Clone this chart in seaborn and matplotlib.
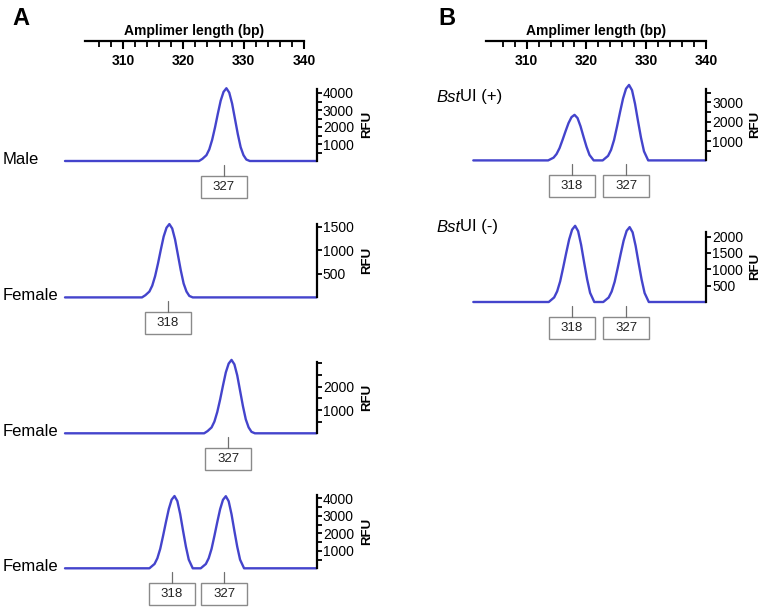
import matplotlib
matplotlib.use("Agg")
import matplotlib.pyplot as plt
import seaborn as sns
from matplotlib.patches import Rectangle
from matplotlib.lines import Line2D

# ---------------- data ----------------
axis_title = "Amplimer length (bp)"
top_major = [310, 320, 330, 340]
top_minor = [306, 308, 312, 314, 316, 318, 322, 324, 326, 328, 332, 334, 336, 338]

# Panel A
a_names = ["Male", "Female", "Female", "Female"]

a1_x = [299.2, 322.7, 323.3, 324.0, 324.5, 325.0, 325.5, 326.0, 326.5, 327.0, 327.5,
        328.0, 328.5, 329.0, 329.5, 330.0, 330.5, 331.0, 331.6, 343.3]
a1_y = [0, 0, 128, 342, 685, 1241, 1969, 2782, 3552, 4066, 4280, 4023, 3381, 2482, 1584,
        813, 342, 86, 0, 0]

a2_x = [299.2, 312.7, 313.3, 314.0, 314.5, 315.0, 315.5, 316.0, 316.5, 317.0, 317.5,
        318.0, 318.5, 319.0, 319.5, 320.0, 320.5, 321.0, 321.6, 343.3]
a2_y = [0, 0, 47, 125, 250, 452, 718, 1014, 1295, 1482, 1560, 1466, 1232, 905, 577, 296,
        125, 31, 0, 0]

a3_x = [299.2, 323.6, 324.2, 324.9, 325.4, 325.9, 326.4, 326.9, 327.4, 327.9, 328.4,
        328.9, 329.4, 329.9, 330.4, 330.9, 331.4, 331.9, 332.5, 343.3]
a3_y = [0, 0, 95, 252, 504, 914, 1449, 2048, 2615, 2993, 3150, 2961, 2489, 1827, 1166,
        599, 252, 63, 0, 0]

a4_x = [299.2, 314.0, 314.9, 315.4, 315.9, 316.4, 316.9, 317.4, 317.9, 318.4, 318.9,
        319.4, 319.9, 320.4, 320.9, 321.6, 323.0, 323.9, 324.4, 324.9, 325.4, 325.9,
        326.4, 326.9, 327.4, 327.9, 328.4, 328.9, 329.4, 329.9, 330.6, 343.3]
a4_y = [0, 0, 248, 578, 1115, 1859, 2643, 3387, 3924, 4130, 3841, 3098, 2148, 1239, 496, 0,
        0, 247, 577, 1112, 1854, 2637, 3378, 3914, 4120, 3832, 3090, 2142, 1236, 494, 0, 0]

# Panel B
b_names = [("Bst", "UI (+)"), ("Bst", "UI (-)")]

b1_x = [301.1, 313.6, 314.5, 315.0, 315.5, 316.0, 316.5, 317.0, 317.5, 318.0, 318.5,
        319.0, 319.5, 320.0, 320.5, 321.2, 322.7, 323.6, 324.1, 324.6, 325.1, 325.6,
        326.1, 326.6, 327.1, 327.6, 328.1, 328.6, 329.1, 329.6, 330.3, 339.9]
b1_y = [0, 0, 142, 330, 637, 1062, 1510, 1935, 2242, 2360, 2195, 1770, 1227, 708, 283, 0,
        0, 235, 547, 1056, 1760, 2502, 3206, 3715, 3910, 3636, 2933, 2033, 1173, 469, 0, 0]

b2_x = [301.1, 313.7, 314.6, 315.1, 315.6, 316.1, 316.6, 317.1, 317.6, 318.1, 318.6,
        319.1, 319.6, 320.1, 320.6, 321.3, 322.8, 323.7, 324.2, 324.7, 325.2, 325.7,
        326.2, 326.7, 327.2, 327.7, 328.2, 328.7, 329.2, 329.7, 330.4, 339.9]
b2_y = [0, 0, 140, 326, 629, 1049, 1491, 1911, 2214, 2330, 2167, 1748, 1212, 699, 280, 0,
        0, 137, 321, 618, 1031, 1466, 1878, 2176, 2290, 2130, 1718, 1191, 687, 275, 0, 0]

# peak call boxes: text and position (bp)
a1_calls, a1_call_pos = ["327"], [327.0]
a2_calls, a2_call_pos = ["318"], [317.2]
a3_calls, a3_call_pos = ["327"], [327.8]
a4_calls, a4_call_pos = ["318", "327"], [317.9, 327.1]
b1_calls, b1_call_pos = ["318", "327"], [317.5, 326.6]
b2_calls, b2_call_pos = ["318", "327"], [317.5, 326.6]

# RFU axis ticks
a1_major, a1_minor, a1_top = [1000, 2000, 3000, 4000], [500, 1500, 2500, 3500], 4250
a2_major, a2_minor, a2_top = [500, 1000, 1500], [], 1570
a3_major, a3_minor, a3_top = [1000, 2000], [500, 1500, 2500, 3000], 3050
a4_major, a4_minor, a4_top = [1000, 2000, 3000, 4000], [500, 1500, 2500, 3500], 4180
b1_major, b1_minor, b1_top = [1000, 2000, 3000], [500, 1500, 2500, 3500], 3700
b2_major, b2_minor, b2_top = [500, 1000, 1500, 2000], [], 2150

# ---------------- style ----------------
sns.set_style("white")
plt.rcParams["font.family"] = ["Liberation Sans", "DejaVu Sans"]
for k in ["text.color", "axes.labelcolor", "xtick.color", "ytick.color", "axes.edgecolor"]:
    plt.rcParams[k] = "black"

W, H = 765, 608
BLUE = "#4444cc"
GRAY = "#8a8a8a"

fig = plt.figure(figsize=(W / 100, H / 100), dpi=100)
fig.patch.set_facecolor("white")


def fx(px):
    return px / W


def fy(py):
    return 1 - py / H


def top_axis(px0, px1, py, xlim):
    ax = fig.add_axes([fx(px0), fy(py), fx(px1) - fx(px0), 0.0001])
    ax.set_xlim(*xlim)
    ax.set_ylim(0, 1)
    for s in ["left", "right", "top"]:
        ax.spines[s].set_visible(False)
    ax.spines["bottom"].set_linewidth(1.6)
    ax.set_yticks([])
    ax.set_xticks(top_major)
    ax.set_xticklabels([str(v) for v in top_major], fontweight="bold", fontsize=10)
    ax.set_xticks(top_minor, minor=True)
    ax.tick_params(axis="x", which="major", bottom=True, top=False, direction="out",
                   length=6, width=1.5, pad=3.5)
    ax.tick_params(axis="x", which="minor", bottom=True, top=False, direction="out",
                   length=4, width=1.3)
    ax.set_title(axis_title, fontweight="bold", fontsize=10, pad=4.5)
    ax.patch.set_alpha(0)
    return ax


def trace(xs, ys, px0, px1, base, px_per_k, major, minor, top, calls, call_pos, rfu_x):
    h = 95
    ax = fig.add_axes([fx(px0), fy(base), fx(px1) - fx(px0), h / H])
    sns.lineplot(x=xs, y=ys, ax=ax, color=BLUE, linewidth=1.7, sort=False, estimator=None)
    for ln in ax.lines:
        ln.set_clip_on(False)
        ln.set_solid_joinstyle("round")
    ax.set_xlim(min(xs), max(xs))
    ax.set_ylim(0, h / px_per_k * 1000)
    for s in ["left", "top", "bottom"]:
        ax.spines[s].set_visible(False)
    ax.spines["right"].set_linewidth(1.6)
    ax.spines["right"].set_bounds(0, top)
    ax.set_xticks([])
    ax.yaxis.tick_right()
    ax.set_yticks(major)
    ax.set_yticklabels([str(v) for v in major], fontsize=10)
    ax.set_yticks(minor, minor=True)
    ax.tick_params(axis="y", which="both", right=True, left=False, direction="out",
                   length=3.5, width=1.3, pad=1)
    ax.set_xlabel("")
    ax.set_ylabel("")
    ax.patch.set_alpha(0)
    # RFU label
    mid = base - (top * px_per_k / 1000) / 2
    fig.text(fx(rfu_x), fy(mid), "RFU", rotation=90, ha="center", va="center",
             fontweight="bold", fontsize=9.5)
    # peak call boxes
    for txt, pos in zip(calls, call_pos):
        xp = ax.transData.transform((pos, 0))[0] / fig.dpi * 100
        fig.add_artist(Line2D([fx(xp), fx(xp)], [fy(base + 4), fy(base + 15)],
                              transform=fig.transFigure, color="#707070", lw=0.9))
        fig.add_artist(Rectangle((fx(xp - 23), fy(base + 37)), 46 / W, 22 / H,
                                 transform=fig.transFigure, facecolor="white",
                                 edgecolor=GRAY, lw=1.0))
        fig.text(fx(xp), fy(base + 26), txt, ha="center", va="center", fontsize=9.5,
                 color="#222222")
    return ax


# ---------------- Panel A ----------------
fig.text(fx(12), fy(25), "A", fontsize=17, fontweight="bold", va="baseline")
top_axis(85, 304, 41, (303.7, 340))

a_traces = [
    (a1_x, a1_y, 161.0, 17.0, a1_major, a1_minor, a1_top, a1_calls, a1_call_pos),
    (a2_x, a2_y, 297.4, 47.0, a2_major, a2_minor, a2_top, a2_calls, a2_call_pos),
    (a3_x, a3_y, 433.3, 23.3, a3_major, a3_minor, a3_top, a3_calls, a3_call_pos),
    (a4_x, a4_y, 568.3, 17.5, a4_major, a4_minor, a4_top, a4_calls, a4_call_pos),
]
for name, (xs, ys, base, sc, mj, mn, tp, cl, cp) in zip(a_names, a_traces):
    trace(xs, ys, 65, 316.5, base, sc, mj, mn, tp, cl, cp, 367)
    fig.text(fx(3), fy(base - 2), name, fontsize=12, ha="left", va="center")

# ---------------- Panel B ----------------
fig.text(fx(438), fy(25), "B", fontsize=17, fontweight="bold", va="baseline")
top_axis(486, 706, 41, (303.2, 340))

b_traces = [
    (b1_x, b1_y, 160.4, 19.3, b1_major, b1_minor, b1_top, b1_calls, b1_call_pos, 97),
    (b2_x, b2_y, 302.0, 32.7, b2_major, b2_minor, b2_top, b2_calls, b2_call_pos, 227),
]
for (it, rest), (xs, ys, base, sc, mj, mn, tp, cl, cp, ly) in zip(b_names, b_traces):
    ax = trace(xs, ys, 473.3, 705.7, base, sc, mj, mn, tp, cl, cp, 755.5)
    t1 = fig.text(fx(436), fy(ly), it, fontsize=12, style="italic", ha="left", va="center")
    ax.annotate(rest, xy=(1, 0.5), xycoords=t1, ha="left", va="center", fontsize=12,
                annotation_clip=False)

fig.savefig("out.png", dpi=100, facecolor="white")
